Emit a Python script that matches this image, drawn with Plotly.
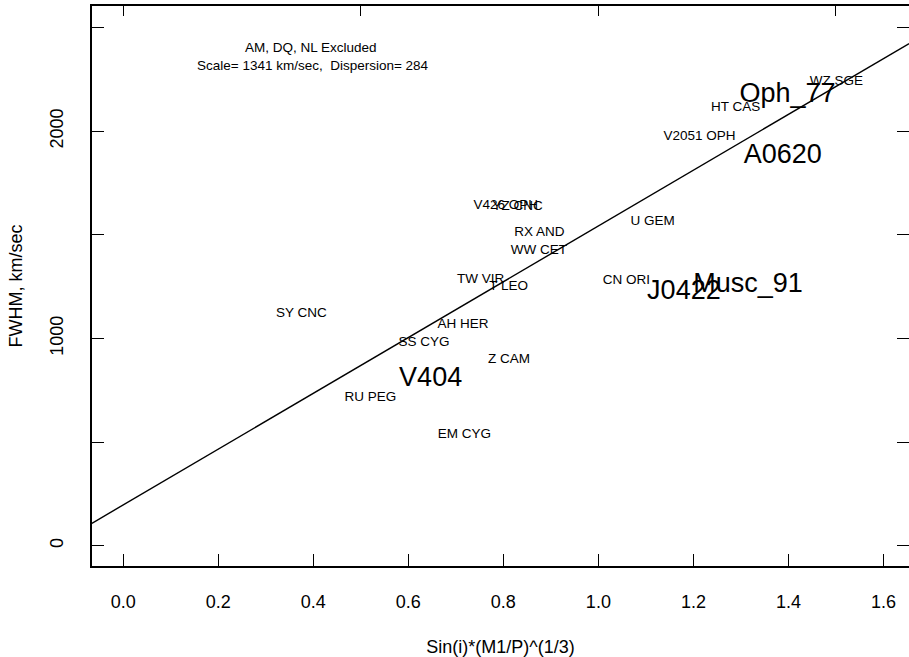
import plotly.graph_objects as go

# ---- data ----
small_names = ["SY CNC", "AH HER", "SS CYG", "Z CAM", "RU PEG", "EM CYG",
               "V426 OPH", "YZ CNC", "RX AND", "WW CET", "TW VIR", "T LEO",
               "U GEM", "CN ORI", "WZ SGE", "HT CAS", "V2051 OPH"]
small_x = [0.375, 0.715, 0.633, 0.812, 0.520, 0.718,
           0.805, 0.830, 0.876, 0.875, 0.752, 0.811,
           1.114, 1.059, 1.501, 1.289, 1.213]
small_y = [1122, 1069, 981, 896, 714, 534,
           1643, 1635, 1510, 1422, 1285, 1249,
           1563, 1277, 2238, 2113, 1976]

big_names = ["V404", "J0422", "Musc_91", "Oph_77", "A0620"]
big_x = [0.647, 1.180, 1.315, 1.398, 1.388]
big_y = [805, 1222, 1258, 2175, 1877]

fit_x = [-0.066, 1.654]
fit_y = [108, 2423]

x_ticks = [0.0, 0.2, 0.4, 0.6, 0.8, 1.0, 1.2, 1.4, 1.6]
x_ticktext = ["0.0", "0.2", "0.4", "0.6", "0.8", "1.0", "1.2", "1.4", "1.6"]
x_top_ticks = [0.0, 0.5, 1.0, 1.5]
y_ticks = [0, 500, 1000, 1500, 2000, 2500]
y_ticktext = ["0", "", "1000", "", "2000", ""]

x_range = [-0.0657, 1.6537]
y_range = [-98, 2604]

FONT = "Liberation Sans, Arial, Helvetica, sans-serif"

fig = go.Figure()

fig.add_trace(go.Scatter(x=fit_x, y=fit_y, mode="lines",
                         line=dict(color="black", width=1.4),
                         hoverinfo="skip", showlegend=False))

fig.add_trace(go.Scatter(x=small_x, y=small_y, mode="text", text=small_names,
                         textposition="middle center",
                         textfont=dict(family=FONT, size=13.5, color="black"),
                         showlegend=False, cliponaxis=False))

fig.add_trace(go.Scatter(x=big_x, y=big_y, mode="text", text=big_names,
                         textposition="middle center",
                         textfont=dict(family=FONT, size=27, color="black"),
                         showlegend=False, cliponaxis=False))

# invisible trace to activate top / right mirror axes
fig.add_trace(go.Scatter(x=[x_range[0]], y=[y_range[0]], xaxis="x2", yaxis="y2",
                         mode="markers", marker=dict(opacity=0),
                         hoverinfo="skip", showlegend=False))

fig.add_annotation(text="AM, DQ, NL Excluded", x=0.395, y=2402,
                   xref="x", yref="y", showarrow=False,
                   font=dict(family=FONT, size=13.5, color="black"))
fig.add_annotation(text="Scale= 1341 km/sec,  Dispersion= 284", x=0.400, y=2319,
                   xref="x", yref="y", showarrow=False,
                   font=dict(family=FONT, size=13.5, color="black"))

axis_common = dict(showgrid=False, zeroline=False, showline=True,
                   linecolor="black", linewidth=1.6,
                   ticks="inside", ticklen=12, tickwidth=1.3, tickcolor="black")

fig.update_layout(
    width=909, height=657,
    margin=dict(l=92, r=0, t=6, b=91),
    paper_bgcolor="white", plot_bgcolor="white",
    font=dict(family=FONT, color="black"),
    xaxis=dict(range=x_range, tickvals=x_ticks, ticktext=x_ticktext,
               tickfont=dict(family=FONT, size=18, color="black"),
               ticklabelstandoff=19,
               title=dict(text="Sin(i)*(M1/P)^(1/3)",
                          font=dict(family=FONT, size=18, color="black"),
                          standoff=31),
               **axis_common),
    yaxis=dict(range=y_range, tickvals=y_ticks, ticktext=y_ticktext,
               tickangle=-90,
               tickfont=dict(family=FONT, size=18, color="black"),
               ticklabelstandoff=20,
               title=dict(text="FWHM, km/sec",
                          font=dict(family=FONT, size=18, color="black"),
                          standoff=20),
               **axis_common),
    xaxis2=dict(range=x_range, overlaying="x", side="top",
                tickvals=x_top_ticks, showticklabels=False,
                **{**axis_common, "ticklen": 10}),
    yaxis2=dict(range=y_range, overlaying="y", side="right",
                tickvals=y_ticks, showticklabels=False,
                **axis_common),
)

fig.write_html("out.html",
               config={"displayModeBar": False},
               post_script="document.body.style.margin='0';document.body.style.overflow='hidden';")
